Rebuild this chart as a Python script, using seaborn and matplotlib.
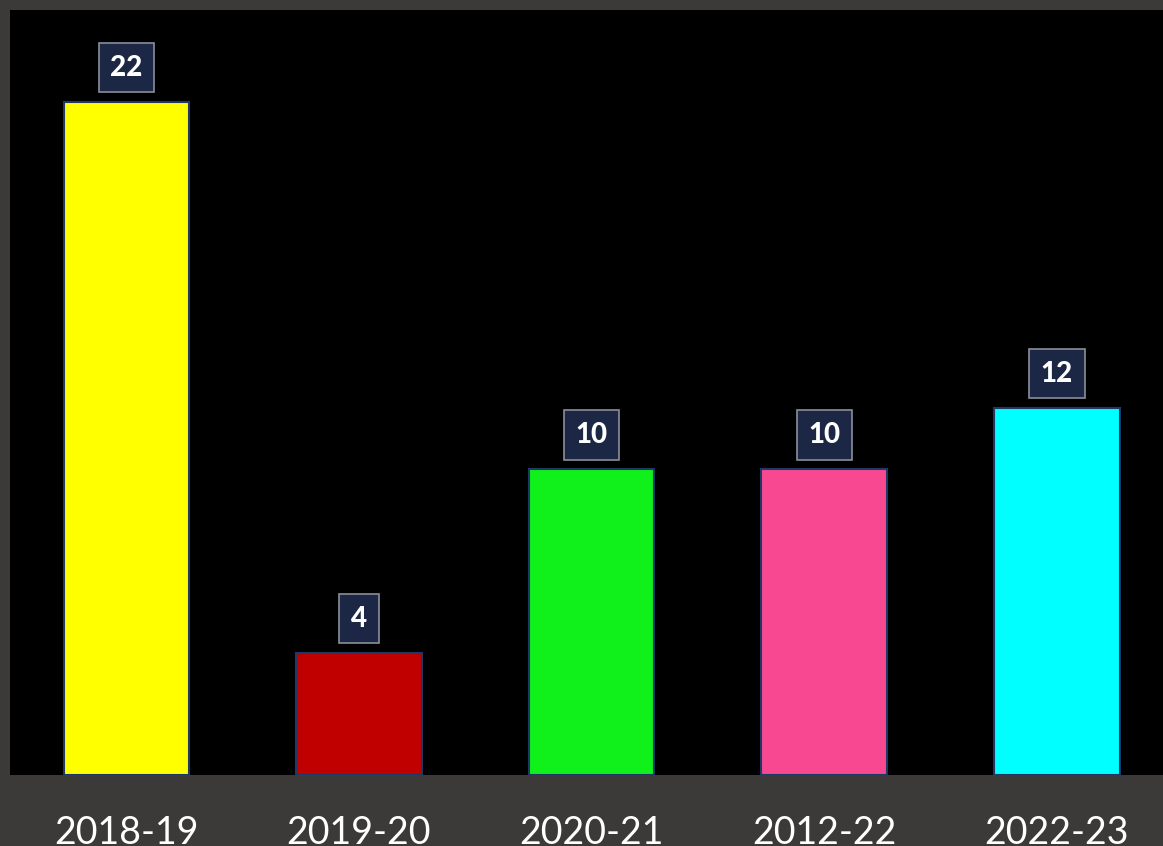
import pandas as pd
import matplotlib.pyplot as plt
import seaborn as sns

years = ["2018-19", "2019-20", "2020-21", "2012-22", "2022-23"]
counts = [22, 4, 10, 10, 12]
bar_colors = ["#ffff00", "#c00000", "#10f01a", "#f94892", "#00ffff"]

df = pd.DataFrame({"year": years, "count": counts})

sns.set_style("dark")
plt.rcParams["font.family"] = ["Lato", "DejaVu Sans"]

fig = plt.figure(figsize=(11.63, 8.46), dpi=100, facecolor="#3c3a38")
ax = fig.add_axes([10 / 1163, 71 / 846, 1153 / 1163, 765 / 846])
ax.set_facecolor("black")

sns.barplot(data=df, x="year", y="count", hue="year", palette=bar_colors,
            saturation=1, width=0.54, legend=False, ax=ax,
            edgecolor="#1f3864", linewidth=1.5)

# value labels in small navy boxes
for i, v in enumerate(counts):
    ax.annotate(str(v), (i, v), xytext=(0, 24.5), textcoords="offset points",
                ha="center", va="center", color="white", fontsize=20,
                fontweight="black",
                bbox=dict(boxstyle="square,pad=0.42", fc="#1b2744",
                          ec="#8a8f99", lw=1.2))

ax.set_xlim(-0.5, 4.456)
ax.set_ylim(0, 25)
ax.set_yticks([])
ax.set_xlabel("")
ax.set_ylabel("")
ax.tick_params(axis="x", length=0, labelsize=27, labelcolor="white", pad=29)
for s in ax.spines.values():
    s.set_visible(False)
ax.grid(False)

fig.savefig("out.png", dpi=100, facecolor=fig.get_facecolor())
